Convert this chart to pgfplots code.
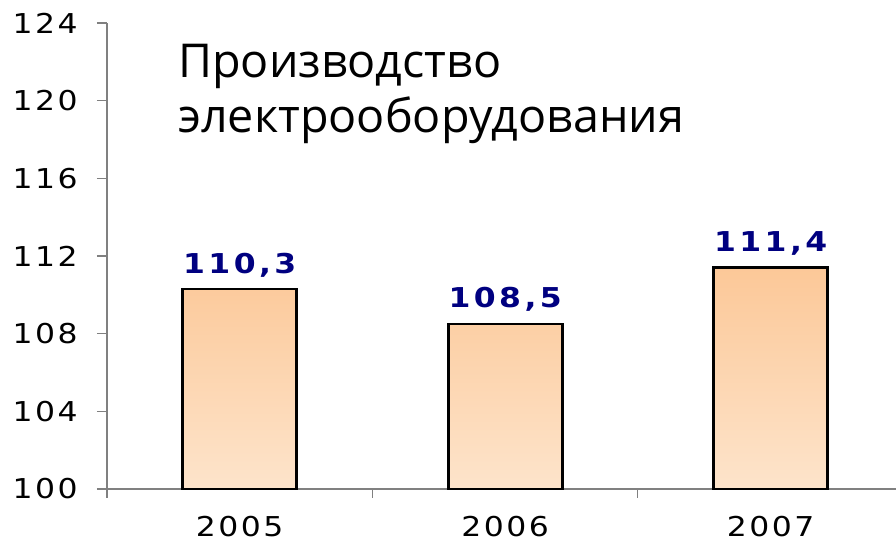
\documentclass[border=0pt]{standalone}
\usepackage{pgfplots}
\pgfplotsset{compat=1.18}
\usepackage{graphicx}
\usepackage{fontspec}
\setmainfont{DejaVu Sans}
\newfontfamily\tickfont[LetterSpace=8]{DejaVu Sans}
\newfontfamily\valuefont[LetterSpace=11]{DejaVu Sans Bold}
\newfontfamily\titlefont{Open Sans}
\newcommand\wide[1]{\scalebox{1.15}[1]{#1}}
\definecolor{barTop}{RGB}{252,200,152}
\definecolor{barBot}{RGB}{253,228,203}
\definecolor{labelBlue}{RGB}{0,0,128}
\definecolor{axisGray}{RGB}{128,128,128}

\pgfplotstableread{
x  year  value
0  2005  110.3
1  2006  108.5
2  2007  111.4
}\production

\begin{document}
\begin{tikzpicture}
\begin{axis}[
  at={(0,0)}, anchor=south west,
  scale only axis,
  width=591.75pt, height=349.5pt,
  xmin=-0.5, xmax=2.472,
  ymin=100, ymax=124,
  ytick={100,104,...,124},
  yticklabel={\wide{\pgfmathprintnumber{\tick}}},
  xtick={0,1,2},
  xticklabels={\wide{2005},\wide{2006},\wide{2007}},
  minor xtick={-0.5,0.5,1.5,2.5},
  axis lines*=left,
  axis line style={axisGray, line width=0.8pt},
  tick align=outside,
  major tick length=7.5pt,
  minor tick length=6.75pt,
  major x tick style={draw=none},
  minor x tick style={axisGray, line width=0.8pt},
  major y tick style={axisGray, line width=0.8pt},
  tick label style={font=\tickfont\fontsize{20.5}{22}\selectfont, text=black},
  /pgf/number format/assume math mode=true,
  yticklabel style={anchor=east, xshift=-11pt},
  xticklabel style={anchor=north, yshift=-9.25pt},
  clip=false,
]
\addplot[
  ybar, bar width=85.5pt, bar shift=0pt,
  draw=black, line width=2pt,
  top color=barTop, bottom color=barBot,
  nodes near coords={\wide{\pgfmathprintnumber[fixed,fixed zerofill,precision=1,use comma,assume math mode=true]{\pgfplotspointmeta}}},
  every node near coord/.append style={
    anchor=base, yshift=12pt, text=labelBlue,
    font=\valuefont\fontsize{20.5}{22}\selectfont},
] table[x=x, y=value] {\production};
\node[anchor=base west, inner sep=0pt, font=\titlefont\fontsize{35}{40}\selectfont]
  at (rel axis cs:0.09,0.884) {Производство};
\node[anchor=base west, inner sep=0pt, font=\titlefont\fontsize{35}{40}\selectfont]
  at (rel axis cs:0.09,0.766) {электрооборудования};
\end{axis}
\pgfresetboundingbox
\path[use as bounding box] (-80.25pt,-39.75pt) rectangle (591.75pt,366.75pt);
\end{tikzpicture}
\end{document}
